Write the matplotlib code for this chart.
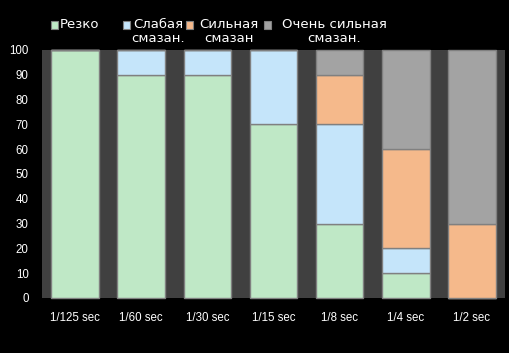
import numpy as np
import matplotlib
matplotlib.use("Agg")
import matplotlib.pyplot as plt
from matplotlib.patches import Rectangle

categories = ["1/125 sec", "1/60 sec", "1/30 sec", "1/15 sec", "1/8 sec", "1/4 sec", "1/2 sec"]
series_names = ["Резко", "Слабая\nсмазан.", "Сильная\nсмазан", "Очень сильная\nсмазан."]
sharp = [100, 90, 90, 70, 30, 10, 0]
light_blur = [0, 10, 10, 30, 40, 10, 0]
strong_blur = [0, 0, 0, 0, 20, 40, 30]
very_strong_blur = [0, 0, 0, 0, 10, 40, 70]

GREEN = "#bfe8c6"
BLUE = "#c5e5fa"
ORANGE = "#f5b98b"
GRAY = "#a3a3a3"
colors = [GREEN, BLUE, ORANGE, GRAY]

plt.rcParams["font.family"] = ["Liberation Sans", "DejaVu Sans"]

fig = plt.figure(figsize=(5.10, 3.53), dpi=100, facecolor="black")
ax = fig.add_axes([42/510, 1 - 298/353, 463/510, 248/353])
ax.set_facecolor("#404040")

x = np.arange(len(categories))
bottom = np.zeros(len(categories))
for vals, col in zip([sharp, light_blur, strong_blur, very_strong_blur], colors):
    vals = np.array(vals, dtype=float)
    ax.bar(x, vals, bottom=bottom, width=0.72, color=col,
           edgecolor="#808080", linewidth=1.0, clip_on=False)
    bottom += vals

ax.set_xlim(-0.5, len(categories) - 0.5)
ax.set_ylim(0, 100)
ax.set_yticks(np.arange(0, 101, 10))
ax.set_xticks(x)
ax.set_xticklabels(categories)
ax.tick_params(axis="both", length=0, colors="white", labelsize=8.3)
ax.tick_params(axis="y", pad=9.5)
ax.tick_params(axis="x", pad=10)
for s in ax.spines.values():
    s.set_visible(False)

# legend drawn by hand: square + centred two-line text
W, H = 510, 353
leg_sq_x = [51, 123, 186, 264]
leg_txt_c = [80, 158, 229, 334]
for sx, tc, name, col in zip(leg_sq_x, leg_txt_c, series_names, colors):
    fig.patches.append(Rectangle((sx / W, 1 - 28.5 / H), 7 / W, 7 / H,
                                 transform=fig.transFigure, facecolor=col,
                                 edgecolor="#808080", linewidth=0.8))
    fig.text(tc / W, 1 - 17.5 / H, name, color="white", ha="center", va="top",
             fontsize=9.5, family=["DejaVu Sans"], multialignment="center",
             linespacing=1.2)

fig.savefig("out.png", dpi=100, facecolor="black")
